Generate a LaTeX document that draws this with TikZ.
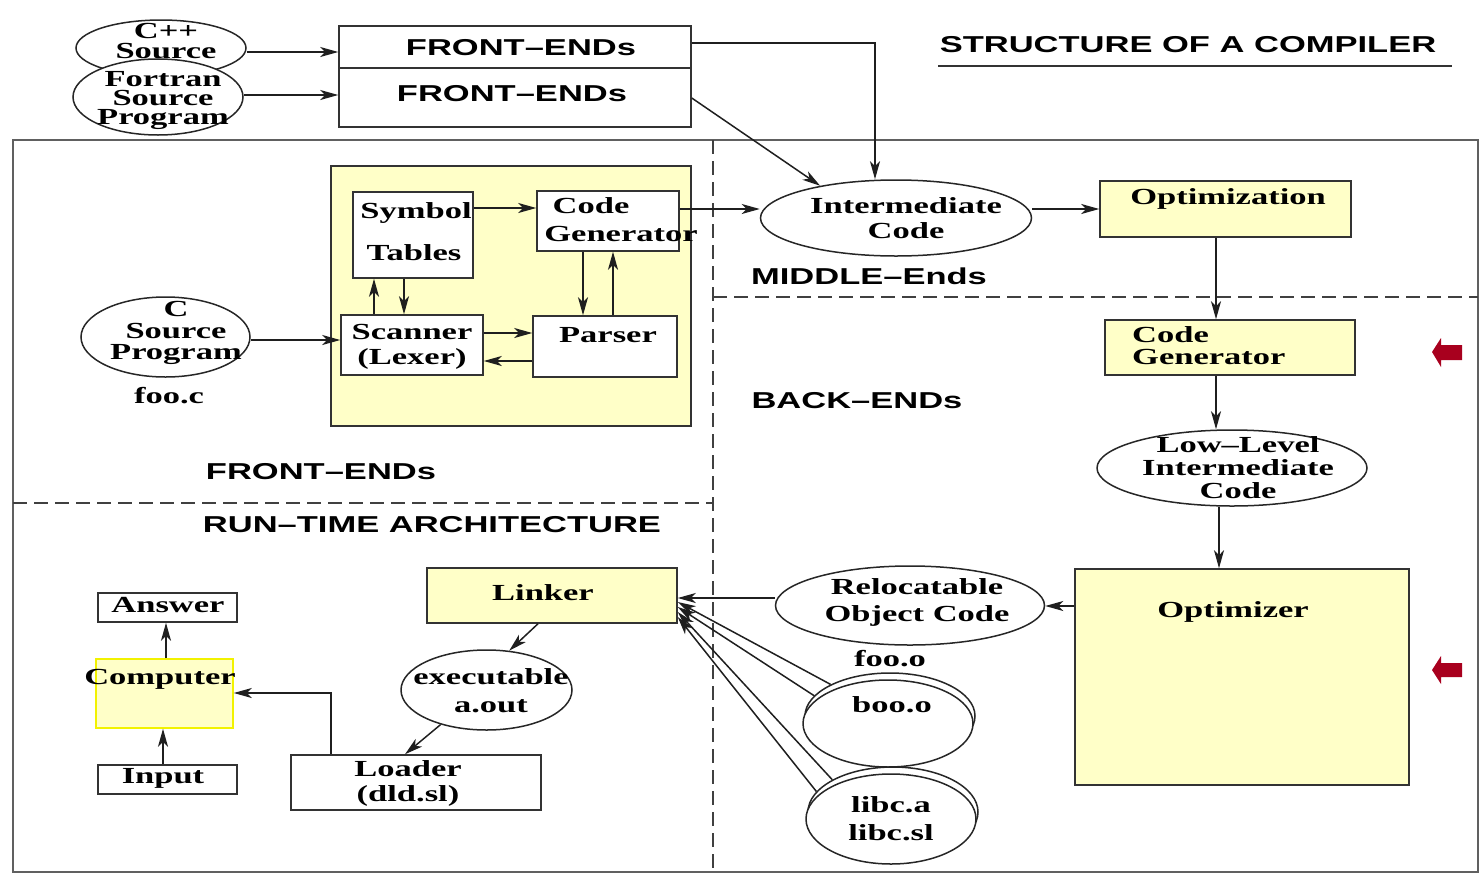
\documentclass[tikz,border=0pt]{standalone}
\usepackage{fontspec}
\setmainfont{Liberation Serif}[FakeStretch=1.5]
\newfontfamily\headfont{Liberation Sans}[FakeStretch=1.5]
\usetikzlibrary{shapes.geometric,arrows.meta}
\definecolor{paleyellow}{HTML}{FFFFC8}
\definecolor{brightyellow}{HTML}{F2F200}
\definecolor{framegray}{HTML}{606060}
\definecolor{markred}{HTML}{A8001E}
\tikzset{
  ln/.style={line width=1.5pt, draw=black!88},
  box/.style={draw=black!80, line width=1.5pt, rectangle, inner sep=0pt, fill=white},
  ybox/.style={box, fill=paleyellow},
  oval/.style={draw=black!85, line width=1.5pt, ellipse, inner sep=0pt, fill=white},
  tx/.style={font=\bfseries\fontsize{23}{#1}\selectfont, align=center, inner sep=0pt, yshift=-2pt},
  tx/.default=25,
  hd/.style={font=\headfont\bfseries\fontsize{23}{25}\selectfont, inner sep=0pt},
  arr/.style={ln, -{Stealth[length=18pt,width=10pt,inset=5pt]}},
  sepline/.style={draw=black!75, line width=1.6pt, dash pattern=on 14pt off 7pt},
}
\begin{document}
\begin{tikzpicture}[x=1pt,y=-1pt]
\useasboundingbox (0,0) rectangle (1480,873);

% outer frame and section separators
\draw[framegray, line width=2pt] (13,140) rectangle (1478,872);
\draw[sepline] (713,140) -- (713,872);
\draw[sepline] (713,297) -- (1478,297);
\draw[sepline] (13,503) -- (713,503);

% title
\node[hd] (title) at (1188,45) {STRUCTURE OF A COMPILER};
\draw[line width=1.3pt, black!80] (938,66) -- (1452,66);

% source programs feeding the front ends
\node[oval, minimum width=170pt, minimum height=56pt] (cpp) at (161,48) {};
\node[tx=20] at (166,39) {C++\\Source};
\node[oval, minimum width=170pt, minimum height=76pt] (fortran) at (158,97) {};
\node[tx=19] at (163,99) {Fortran\\Source\\Program};

\node[box, minimum width=352pt, minimum height=42pt] (fe1) at (515,47) {};
\node[box, minimum width=352pt, minimum height=59pt] (fe2) at (515,97.5) {};
\node[hd] at (521,48) {FRONT–ENDs};
\node[hd] at (512,94) {FRONT–ENDs};

\draw[arr] (cpp.east |- 0,52) -- (fe1.west |- 0,52);
\draw[arr] (fortran.east |- 0,95) -- (fe2.west |- 0,95);

% middle end
\node[oval, minimum width=271pt, minimum height=76pt] (im) at (896,218) {};
\node[tx=25] at (906,216) {Intermediate\\Code};
\draw[arr] (fe1.east |- 0,43) -- (875,43) -- (im.north -| 875,0);
\draw[arr] (fe2.east |- 0,98) -- (im.157);

\node[ybox, minimum width=251pt, minimum height=56pt] (opt) at (1225.5,209) {};
\node[tx] at (1228,197) {Optimization};
\draw[arr] (im.east |- 0,209) -- (opt.west |- 0,209);
\node[hd] at (869,276) {MIDDLE–Ends};

% front end internals
\node[ybox, minimum width=360pt, minimum height=260pt] (yb) at (511,296) {};
\node[box, minimum width=120pt, minimum height=86pt] (sym) at (413,235) {};
\node[tx] at (416,211) {Symbol};
\node[tx] at (414,251) {Tables};
\node[box, minimum width=142pt, minimum height=60pt] (cg) at (608,221) {};
\node[tx] at (591,204) {Code};
\node[tx] at (621,232) {Generator};
\node[box, minimum width=142pt, minimum height=60pt] (sc) at (412,345) {};
\node[tx=25] at (412,345) {Scanner\\(Lexer)};
\node[box, minimum width=144pt, minimum height=61pt] (pr) at (605,346.5) {};
\node[tx] at (608,333) {Parser};

\draw[arr] (sym.east |- 0,208) -- (cg.west |- 0,208);
\draw[arr] (sc.north -| 374,0) -- (sym.south -| 374,0);
\draw[arr] (sym.south -| 404,0) -- (sc.north -| 404,0);
\draw[arr] (cg.south -| 583,0) -- (pr.north -| 583,0);
\draw[arr] (pr.north -| 613,0) -- (cg.south -| 613,0);
\draw[arr] (sc.east |- 0,333) -- (pr.west |- 0,333);
\draw[arr] (pr.west |- 0,361) -- (sc.east |- 0,361);
\draw[arr] (cg.east |- 0,209) -- (im.west |- 0,209);

\node[oval, minimum width=169pt, minimum height=80pt] (cs) at (165.5,337) {};
\node[tx=21.5] at (176,331) {C\\Source\\Program};
\node[tx] at (169,394) {foo.c};
\draw[arr] (cs.east |- 0,340) -- (sc.west |- 0,340);

\node[hd] at (321,472) {FRONT–ENDs};
\node[hd] at (432,525) {RUN–TIME ARCHITECTURE};

% back end
\node[ybox, minimum width=250pt, minimum height=55pt] (bcg) at (1230,347.5) {};
\node[tx=22, align=left, anchor=west] at (1132,344) {Code\\Generator};
\draw[arr] (opt.south -| 1216,0) -- (bcg.north -| 1216,0);
\node[hd] at (857,401) {BACK–ENDs};

\node[oval, minimum width=270pt, minimum height=76pt] (ll) at (1232,468) {};
\node[tx=23] at (1238,466) {Low–Level\\Intermediate\\Code};
\draw[arr] (bcg.south -| 1216,0) -- (ll.north -| 1216,0);

\node[ybox, minimum width=334pt, minimum height=216pt] (omz) at (1242,677) {};
\node[tx] at (1233,610) {Optimizer};
\draw[arr] (ll.south -| 1219,0) -- (omz.north -| 1219,0);

\fill[markred] (1432,352) -- (1441,338) -- (1441,345) -- (1462,345) -- (1462,360) -- (1441,360) -- (1441,367) -- cycle;
\fill[markred] (1432,670) -- (1441,656) -- (1441,663) -- (1462,663) -- (1462,677) -- (1441,677) -- (1441,684) -- cycle;

% object files and libraries
\node[oval, minimum width=269pt, minimum height=79pt] (rel) at (910,605.5) {};
\node[tx=27] at (917,600) {Relocatable\\Object Code};
\draw[arr] (omz.west |- 0,606) -- (rel.east |- 0,606);
\node[tx] at (890,657) {foo.o};

\node[oval, minimum width=170pt, minimum height=86pt] (booback) at (890,716) {};
\node[oval, minimum width=170pt, minimum height=87pt] (boo) at (888,723.5) {};
\node[tx] at (892,703) {boo.o};

\node[oval, minimum width=170pt, minimum height=90pt] (libback) at (893,812) {};
\node[oval, minimum width=170pt, minimum height=90pt] (lib) at (891,819) {};
\node[tx=28] at (891,817) {libc.a\\libc.sl};

% linking and loading
\node[ybox, minimum width=250pt, minimum height=55pt] (lk) at (552,595.5) {};
\node[tx] at (543,591) {Linker};
\draw[arr] (rel.west |- 0,598) -- (lk.east |- 0,598);
\draw[arr] (booback.152) -- (lk.east |- 0,602);
\draw[arr] (booback.165) -- (lk.east |- 0,607);
\draw[arr] (libback.152) -- (lk.east |- 0,612);
\draw[arr] (libback.165) -- (lk.east |- 0,617);

\node[oval, minimum width=171pt, minimum height=80pt] (ex) at (486.5,690) {};
\node[tx=28] at (491,689) {executable\\a.out};
\draw[arr] (lk.south -| 538,0) -- (ex.60);

\node[box, minimum width=250pt, minimum height=55pt] (ld) at (416,782.5) {};
\node[tx=25] at (408,781) {Loader\\(dld.sl)};
\draw[arr] (ex.217) -- (ld.north -| 405,0);

\node[ybox, draw=brightyellow, minimum width=137pt, minimum height=69pt] (comp) at (164.5,693.5) {};
\node[tx] at (160,677) {Computer};
\node[box, minimum width=139pt, minimum height=29pt] (ans) at (167.5,607.5) {};
\node[tx] at (168,603) {Answer};
\node[box, minimum width=139pt, minimum height=29pt] (inp) at (167.5,779.5) {};
\node[tx] at (163,776) {Input};

\draw[arr] (ld.north -| 331,0) |- (comp.east |- 0,693);
\draw[arr] (comp.north -| 166,0) -- (ans.south -| 166,0);
\draw[arr] (inp.north -| 163,0) -- (comp.south -| 163,0);
\end{tikzpicture}
\end{document}
